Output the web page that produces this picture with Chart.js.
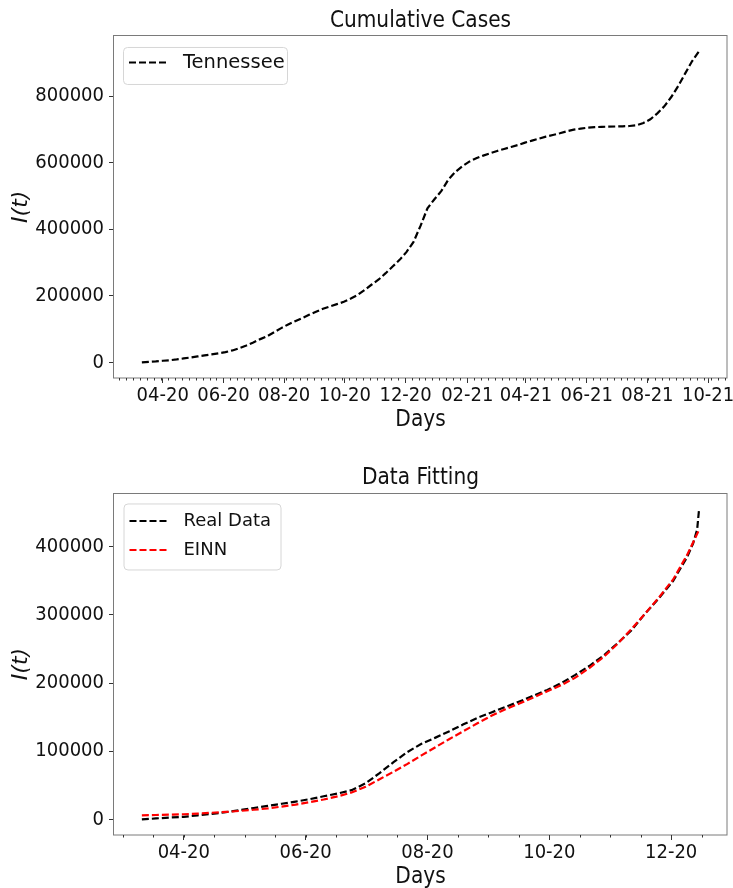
<!DOCTYPE html>
<html>
<head>
<meta charset="utf-8">
<script src="https://cdn.jsdelivr.net/npm/chart.js@4.4.1/dist/chart.umd.min.js"></script>
<style>
  html, body { margin: 0; padding: 0; background: #fff; }
  #wrap { position: relative; width: 733px; height: 888px; overflow: hidden; background: #fff; }
  canvas { position: absolute; left: 0; }
  #cases { top: 0; }
  #fit { top: 444px; }
</style>
</head>
<body>
<div id="wrap">
  <canvas id="cases" width="733" height="444"></canvas>
  <canvas id="fit" width="733" height="444"></canvas>
</div>
<script>
// Day offsets are counted from 2020-03-11 (first reported day).
const ORIGIN = Date.UTC(2020, 2, 11);

// ---- Cumulative cases, Tennessee (weekly samples) ----
const tnDays = [0, 7, 14, 21, 28, 35, 42, 49, 56, 63, 70, 77, 84, 91, 98, 105, 112, 119, 126, 133,
  140, 147, 154, 161, 168, 175, 182, 189, 196, 203, 210, 217, 224, 231, 238, 245, 252, 259, 266, 273,
  280, 287, 294, 301, 308, 315, 322, 329, 336, 343, 350, 357, 364, 371, 378, 385, 392, 399, 406, 413,
  420, 427, 434, 441, 448, 455, 462, 469, 476, 483, 490, 497, 504, 511, 518, 525, 532, 539, 546, 553, 560];
const tnCases = [0, 1500, 3000, 5000, 6500, 9000, 12000, 15000, 18000, 21000,
  24000, 27500, 31000, 36000, 43000, 51000, 60000, 70000, 79000, 91000,
  103000, 114000, 124000, 133000, 143000, 152000, 161000, 168000, 175000, 182000,
  192000, 203000, 218000, 234000, 249000, 268000, 288000, 308000, 332000, 362000,
  410000, 463000, 490000, 515000, 549000, 572000, 589000, 603000, 613000, 621000,
  628000, 635000, 641000, 647000, 653000, 660000, 666000, 672000, 678000, 683000,
  688000, 694000, 699000, 702000, 705000, 706500, 707500, 708000, 708500, 709000,
  710000, 712000, 719000, 730000, 748000, 769000, 797000, 830000, 868000, 905000, 935000];
const tnXTicks = ['04-20', '06-20', '08-20', '10-20', '12-20', '02-21', '04-21', '06-21', '08-21', '10-21'];
const tnYTicks = [0, 200000, 400000, 600000, 800000];

// ---- Data fitting: reported data vs. EINN model ----
const realDays = [0, 7, 14, 21, 28, 35, 42, 49, 56, 63, 70, 77, 84, 91, 98, 105, 112, 119, 126, 133,
  140, 147, 154, 161, 168, 175, 182, 189, 196, 203, 210, 217, 224, 231, 238, 245, 252, 259, 266, 273,
  276, 278, 279];
const realCases = [0, 1500, 2800, 3800, 6000, 8200, 10700, 13700, 16800, 19800,
  23000, 26200, 29800, 34000, 38000, 43000, 53000, 68000, 84000, 99000,
  111000, 120000, 129500, 139500, 149000, 157000, 165000, 173000, 181500, 190000,
  200000, 212000, 225000, 240000, 258000, 277000, 302000, 325000, 350000, 385000,
  405000, 425000, 456000];
const einnDays = [0, 7, 14, 21, 28, 35, 42, 49, 56, 63, 70, 77, 84, 91, 98, 105, 112, 119, 126, 133,
  140, 147, 154, 161, 168, 175, 182, 189, 196, 203, 210, 217, 224, 231, 238, 245, 252, 259, 266, 273, 279];
const einnCases = [6000, 6500, 7000, 7600, 8500, 9800, 11000, 12500, 14200, 16200,
  18800, 21800, 25300, 29300, 33800, 39500, 48000, 59000, 70000, 81500,
  94000, 106000, 118000, 129500, 141000, 152000, 161500, 170000, 179000, 188000,
  197000, 208000, 222000, 238000, 257000, 279000, 302000, 326000, 352000, 388000, 425000];
const fitXTicks = ['04-20', '06-20', '08-20', '10-20', '12-20'];
const fitYTicks = [0, 100000, 200000, 300000, 400000];

const COND = "'DejaVu Sans Condensed', 'DejaVu Sans', sans-serif";
const SANS = "'DejaVu Sans', sans-serif";
const INK = '#111111';

// "MM-YY" -> day offset of the first of that month
function monthStart(label) {
  const [mm, yy] = label.split('-').map(Number);
  return (Date.UTC(2000 + yy, mm - 1, 1) - ORIGIN) / 864e5;
}
function pairs(xs, ys) { return xs.map((x, i) => ({ x, y: ys[i] })); }
function padded(lo, hi) { const p = (hi - lo) * 0.05; return [lo - p, hi + p]; }

// plot frame drawn over the lines, like axis spines
const framePlugin = {
  id: 'frame',
  afterDatasetsDraw(chart) {
    const { ctx, chartArea: a } = chart;
    ctx.save();
    ctx.strokeStyle = '#7a7a7a';
    ctx.lineWidth = 1;
    ctx.strokeRect(Math.round(a.left) - 0.5, Math.round(a.top) + 0.5,
      Math.round(a.right - a.left) + 0.5, Math.round(a.bottom - a.top) - 0.5);
    ctx.restore();
  }
};

// small minor tick marks under the x axis, at a fixed step through an anchor day
const minorTickPlugin = {
  id: 'minorTicks',
  afterDraw(chart, args, opts) {
    const { ctx, chartArea: a, scales: { x } } = chart;
    let d = opts.anchor;
    while (d - opts.step >= x.min) d -= opts.step;
    ctx.save();
    ctx.strokeStyle = '#333';
    ctx.lineWidth = 1;
    ctx.beginPath();
    for (; d <= x.max; d += opts.step) {
      const px = Math.round(x.getPixelForValue(d)) + 0.5;
      ctx.moveTo(px, a.bottom);
      ctx.lineTo(px, a.bottom + opts.length);
    }
    ctx.stroke();
    ctx.restore();
  }
};

// legend box in the upper-left corner of the plot
const insideLegendPlugin = {
  id: 'insideLegend',
  afterDraw(chart, args, o) {
    const { ctx, chartArea: a } = chart;
    const x0 = a.left + o.left, y0 = a.top + o.top;
    ctx.save();
    ctx.beginPath();
    ctx.roundRect(x0 + 0.5, y0 + 0.5, o.width, o.height, 4);
    ctx.fillStyle = 'rgba(255,255,255,0.8)';
    ctx.fill();
    ctx.strokeStyle = '#d6d6d6';
    ctx.lineWidth = 1;
    ctx.stroke();
    chart.data.datasets.forEach((ds, i) => {
      const cy = y0 + o.rows[i];
      ctx.beginPath();
      ctx.strokeStyle = ds.borderColor;
      ctx.lineWidth = ds.borderWidth;
      ctx.setLineDash(ds.borderDash);
      ctx.moveTo(x0 + o.handleX, cy);
      ctx.lineTo(x0 + o.handleX + o.handleLen, cy);
      ctx.stroke();
      ctx.setLineDash([]);
      ctx.fillStyle = INK;
      ctx.font = o.fontSize + 'px ' + SANS;
      ctx.textBaseline = 'middle';
      ctx.textAlign = 'left';
      ctx.fillText(ds.label, x0 + o.textX, cy);
    });
    ctx.restore();
  }
};

function makeChart(id, cfg) {
  const allX = cfg.datasets.flatMap(d => d.data.map(p => p.x));
  const allY = cfg.datasets.flatMap(d => d.data.map(p => p.y));
  const [xMin, xMax] = padded(Math.min(...allX), Math.max(...allX));
  const [yMin, yMax] = padded(Math.min(...allY), Math.max(...allY));
  const xTickMap = new Map(cfg.xTicks.map(l => [monthStart(l), l]));

  return new Chart(document.getElementById(id), {
    type: 'line',
    data: { datasets: cfg.datasets },
    options: {
      responsive: false,
      animation: false,
      devicePixelRatio: 1,
      layout: { padding: { left: 0, right: 6, top: 0, bottom: 0 } },
      elements: { point: { radius: 0 }, line: { tension: 0 } },
      plugins: {
        legend: { display: false },
        tooltip: { enabled: false },
        title: {
          display: true, text: cfg.title, color: INK, fullSize: false,
          font: { family: COND, size: 22.4, weight: 'normal', lineHeight: 1.2 },
          padding: cfg.titlePad
        },
        insideLegend: cfg.legend,
        minorTicks: cfg.minor
      },
      scales: {
        x: {
          type: 'linear', min: xMin, max: xMax,
          afterBuildTicks: s => { s.ticks = cfg.xTicks.map(l => ({ value: monthStart(l) })); },
          afterFit: s => { s.height = cfg.xHeight; s.paddingLeft = 0; s.paddingRight = 0; },
          ticks: {
            autoSkip: false, maxRotation: 0, minRotation: 0, padding: cfg.xTickPad, color: INK,
            font: { family: COND, size: 20 },
            callback: v => xTickMap.get(v) ?? ''
          },
          grid: { drawOnChartArea: false, drawTicks: true, tickLength: 5, tickColor: '#333', tickWidth: 1 },
          border: { display: false },
          title: {
            display: true, text: 'Days', color: INK,
            font: { family: COND, size: 22.4, lineHeight: 1.0 },
            padding: { top: 0, bottom: cfg.daysPad }
          }
        },
        y: {
          type: 'linear', min: yMin, max: yMax,
          afterBuildTicks: s => { s.ticks = cfg.yTicks.map(v => ({ value: v })); },
          afterFit: s => { s.width = 114; s.paddingTop = 0; s.paddingBottom = 0; },
          ticks: {
            padding: 5, color: INK,
            font: { family: COND, size: 20 },
            callback: v => String(v)
          },
          grid: { drawOnChartArea: false, drawTicks: true, tickLength: 5, tickColor: '#333', tickWidth: 1 },
          border: { display: false },
          title: {
            display: true, text: 'I(t)', color: INK,
            font: { family: SANS, size: 22, style: 'italic', lineHeight: 1.2 },
            padding: { top: 8, bottom: 0 }
          }
        }
      }
    },
    plugins: [framePlugin, minorTickPlugin, insideLegendPlugin]
  });
}

const dashed = { borderWidth: 2.2, borderDash: [7, 3], pointRadius: 0, fill: false };

makeChart('cases', {
  title: 'Cumulative Cases',
  titlePad: { top: 7.8, bottom: 0.8 },
  xHeight: 66, xTickPad: 1, daysPad: 12.5,
  xTicks: tnXTicks, yTicks: tnYTicks,
  minor: { anchor: -2, step: 7, length: 2.5 },
  datasets: [
    { label: 'Tennessee', data: pairs(tnDays, tnCases), borderColor: '#000000', ...dashed }
  ],
  legend: { left: 9, top: 11.5, width: 164, height: 37, rows: [15.5], fontSize: 19.5,
            handleX: 6, handleLen: 38, textX: 60 }
});

makeChart('fit', {
  title: 'Data Fitting',
  titlePad: { top: 20.3, bottom: 1.8 },
  xHeight: 53, xTickPad: 1, daysPad: 0,
  xTicks: fitXTicks, yTicks: fitYTicks,
  minor: { anchor: 21, step: 15.25, length: 2.5 },
  datasets: [
    { label: 'Real Data', data: pairs(realDays, realCases), borderColor: '#000000', order: 2, ...dashed },
    { label: 'EINN', data: pairs(einnDays, einnCases), borderColor: '#ff0000', order: 1, ...dashed }
  ],
  legend: { left: 9.5, top: 10.5, width: 157, height: 66, rows: [17.5, 46.5], fontSize: 18,
            handleX: 6, handleLen: 39, textX: 60 }
});
</script>
</body>
</html>
